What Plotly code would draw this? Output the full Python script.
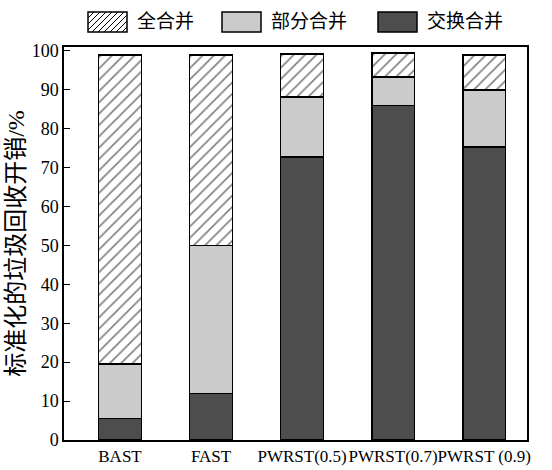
import plotly.graph_objects as go

categories = ["BAST", "FAST", "PWRST(0.5)", "PWRST(0.7)", "PWRST (0.9)"]
swap_merge = [5.5, 12.0, 72.7, 86.0, 75.3]      # 交换合并
partial_merge = [14.0, 38.0, 15.5, 7.3, 14.7]   # 部分合并
full_merge = [79.5, 49.0, 11.0, 6.2, 9.0]       # 全合并
y_ticks = [0, 10, 20, 30, 40, 50, 60, 70, 80, 90, 100]
legend_names = ["全合并", "部分合并", "交换合并"]
y_title = "标准化的垃圾回收开销/%"

FONT = "Liberation Serif, Noto Sans CJK SC"
W, H = 552, 470
L, R, T, B = 64, 25, 47, 30
PW, PH = W - L - R, H - T - B

def px(x):
    return (x - L) / PW

def py(y):
    return (H - B - y) / PH

fig = go.Figure()
common = dict(x=categories, width=0.47, showlegend=False)
fig.add_bar(y=swap_merge, name=legend_names[2],
            marker=dict(color="#4d4d4d", line=dict(color="black", width=1.5)), **common)
fig.add_bar(y=partial_merge, name=legend_names[1],
            marker=dict(color="#cbcbcb", line=dict(color="black", width=1.5)), **common)
fig.add_bar(y=full_merge, name=legend_names[0],
            marker=dict(color="white", line=dict(color="black", width=1.5),
                        pattern=dict(shape="/", fgcolor="black", bgcolor="white",
                                     size=8, solidity=0.2)), **common)

shapes = []
annotations = []
# custom legend
legend_items = [(88, legend_names[0], "hatch"), (222, legend_names[1], "#cbcbcb"),
                (378, legend_names[2], "#4d4d4d")]
y0p, y1p = 32, 12
for x0, name, fill in legend_items:
    x1 = x0 + 39
    if fill == "hatch":
        shapes.append(dict(type="rect", xref="paper", yref="paper",
                           x0=px(x0), x1=px(x1), y0=py(y0p), y1=py(y1p),
                           fillcolor="white", line=dict(color="black", width=1.5)))
        step = 6
        k = -20
        while k < 39:
            ax, ay = x0 + k, y0p
            bx, by = x0 + k + 20, y1p
            if ax < x0:
                ay = y0p - (x0 - ax)
                ax = x0
            if bx > x1:
                by = y1p + (bx - x1)
                bx = x1
            if ax < bx:
                shapes.append(dict(type="line", xref="paper", yref="paper",
                                   x0=px(ax), y0=py(ay), x1=px(bx), y1=py(by),
                                   line=dict(color="black", width=1)))
            k += step
    else:
        shapes.append(dict(type="rect", xref="paper", yref="paper",
                           x0=px(x0), x1=px(x1), y0=py(y0p), y1=py(y1p),
                           fillcolor=fill, line=dict(color="black", width=1.5)))
    annotations.append(dict(text=name, xref="paper", yref="paper",
                            x=px(x1 + 8), y=py(22), xanchor="left", yanchor="middle",
                            showarrow=False, font=dict(family=FONT, size=19, color="black")))

fig.update_layout(
    barmode="stack",
    width=W, height=H,
    margin=dict(l=L, r=R, t=T, b=B, autoexpand=False),
    plot_bgcolor="white", paper_bgcolor="white",
    font=dict(family=FONT, size=17, color="black"),
    shapes=shapes,
    annotations=annotations,
    xaxis=dict(range=[-0.615, 4.47], showline=True, linecolor="black", linewidth=1.5,
               mirror=True, ticks="", showgrid=False, tickangle=0, automargin=False,
               tickfont=dict(size=17)),
    yaxis=dict(range=[0, 101], tickvals=y_ticks, showline=True, linecolor="black",
               linewidth=1.5, mirror=True, ticks="inside", ticklen=6, tickcolor="black",
               showgrid=False, zeroline=False, automargin=False, tickfont=dict(size=18),
               title=dict(text=y_title, font=dict(size=24), standoff=0)),
)

fig.write_html("out.html", config={"displayModeBar": False},
               post_script="document.body.style.margin='0';document.body.style.overflow='hidden';")
